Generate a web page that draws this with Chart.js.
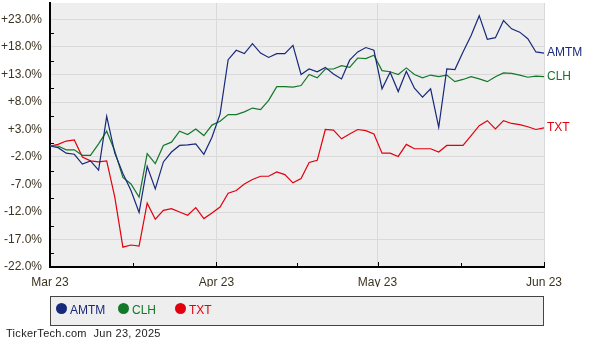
<!DOCTYPE html>
<html>
<head>
<meta charset="utf-8">
<script src="https://cdn.jsdelivr.net/npm/chart.js@4.4.1/dist/chart.umd.min.js"></script>
<style>
    body { margin: 0; background: #fff; font-family: "Liberation Sans", Arial, sans-serif; }
    #wrap { position: relative; width: 600px; height: 340px; }
    #legendBox {
        position: absolute; left: 50px; top: 296px; width: 492px; height: 28px;
        background: #eeeeee; border: 1px solid #444;
    }
    .item { position: absolute; top: 5px; font-size: 12px; line-height: 14px; }
    .dot { position: absolute; top: 1px; width: 11px; height: 11px; border-radius: 50%; }
    .item span.txt { position: absolute; left: 14px; top: 1px; white-space: nowrap; }
    #footer { position: absolute; left: 6px; top: 327px; font-size: 11px; color: #222; letter-spacing: 0.3px; }
</style>
</head>
<body>
<div id="wrap">
    <canvas id="myChart" width="600" height="340"></canvas>
    <div id="legendBox"></div>
    <div id="footer">TickerTech.com&nbsp; Jun 23, 2025</div>
</div>
<script>
const seriesNames = ['AMTM', 'CLH', 'TXT'];
const seriesColors = ['#17297a', '#13782a', '#e3000e'];

// % change from start, one value per trading day
const amtm = [0, -0.3, -1.3, -1.5, -3.3, -2.7, -4.4, 5.4, -1.3, -5.0,
    -8.1, -12.1, -3.7, -7.8, -2.9, -1.1, 0.1, 0.2, 0.4, -1.5,
    1.6, 5.8, 15.7, 17.4, 16.8, 18.6, 16.9, 16.1, 16.8, 16.8,
    18.3, 13.0, 14.0, 13.5, 14.3, 13.1, 12.2, 15.6, 17.1, 17.9,
    17.4, 10.4, 13.4, 9.9, 13.6, 10.5, 8.9, 10.4, 3.4, 14.0,
    13.9, 17.1, 20.1, 23.7, 19.4, 19.7, 22.8, 21.3, 20.7, 19.5,
    17.1, 16.9];
const clh = [0, 0.0, -0.7, -0.7, -1.7, -1.7, 0.4, 2.7, -0.9, -5.7,
    -6.9, -9.3, -1.4, -3.2, 0.1, 0.7, 2.7, 2.1, 3.1, 1.9,
    3.8, 4.5, 5.7, 5.7, 6.2, 6.9, 6.6, 8.3, 10.8, 10.8,
    10.7, 11.0, 13.0, 12.4, 14.0, 14.0, 14.6, 14.3, 16.0, 15.9,
    16.5, 13.7, 13.5, 13.0, 14.2, 13.0, 12.4, 12.9, 12.6, 12.9,
    11.7, 12.1, 12.6, 12.2, 11.7, 12.6, 13.3, 13.2, 12.9, 12.5,
    12.7, 12.6];
const txt = [0, 0.3, 0.9, 1.1, -2.0, -2.7, -2.9, -2.7, -9.3, -18.4,
    -18.0, -18.2, -10.4, -13.3, -11.7, -11.4, -12.0, -12.6, -11.2, -13.2,
    -12.2, -11.1, -8.6, -8.1, -6.9, -6.1, -5.5, -5.5, -4.7, -5.2,
    -6.7, -5.9, -3.0, -2.6, 3.0, 2.9, 1.3, 2.2, 3.0, 2.8,
    2.2, -1.3, -1.3, -1.9, 0.3, -0.5, -0.5, -0.5, -1.1, 0.1,
    0.1, 0.1, 1.9, 3.7, 4.6, 3.1, 4.6, 4.1, 3.9, 3.5,
    3.0, 3.3];

const xTickLabels = ['Mar 23', 'Apr 23', 'May 23', 'Jun 23'];
const xTickDays = [0, 31, 61, 92];
const yTicks = [-22, -17, -12, -7, -2, 3, 8, 13, 18, 23];

const lastIndex = amtm.length - 1;
const dayToIndex = d => d / 92 * lastIndex;

const plotBg = {
    id: 'plotBg',
    beforeDraw(chart) {
        const a = chart.chartArea;
        const ctx = chart.ctx;
        ctx.save();
        ctx.fillStyle = '#eeeeee';
        ctx.fillRect(a.left, a.top, a.right - a.left, a.bottom - a.top);
        ctx.restore();
    }
};

// small tick marks pointing into the plot
const innerTicks = {
    id: 'innerTicks',
    afterDraw(chart) {
        const ctx = chart.ctx;
        const a = chart.chartArea;
        const xs = chart.scales.x, ys = chart.scales.y;
        ctx.save();
        ctx.strokeStyle = '#000';
        ctx.lineWidth = 1;
        ctx.beginPath();
        for (let i = 0; i < yTicks.length - 1; i++) {
            const py = Math.round(ys.getPixelForValue((yTicks[i] + yTicks[i + 1]) / 2)) + 0.5;
            ctx.moveTo(a.left, py); ctx.lineTo(a.left + 4, py);
        }
        for (let i = 0; i < xTickDays.length; i++) {
            const px = Math.round(xs.getPixelForValue(dayToIndex(xTickDays[i]))) + 0.5;
            ctx.moveTo(px, a.bottom); ctx.lineTo(px, a.bottom - 5);
            if (i < xTickDays.length - 1) {
                const pm = Math.round(xs.getPixelForValue(dayToIndex((xTickDays[i] + xTickDays[i + 1]) / 2))) + 0.5;
                ctx.moveTo(pm, a.bottom); ctx.lineTo(pm, a.bottom - 4);
            }
        }
        ctx.stroke();
        ctx.restore();
    }
};

const endLabels = {
    id: 'endLabels',
    afterDatasetsDraw(chart) {
        const ctx = chart.ctx;
        ctx.save();
        ctx.font = '12px "Liberation Sans", Arial, sans-serif';
        ctx.textBaseline = 'middle';
        chart.data.datasets.forEach((ds, i) => {
            const pts = chart.getDatasetMeta(i).data;
            const p = pts[pts.length - 1];
            ctx.fillStyle = ds.borderColor;
            ctx.fillText(ds.label, p.x + 3, p.y);
        });
        ctx.restore();
    }
};

function buildLegend() {
    const box = document.getElementById('legendBox');
    const lefts = [5, 67, 124];
    seriesNames.forEach((name, i) => {
        const item = document.createElement('div');
        item.className = 'item';
        item.style.left = lefts[i] + 'px';
        item.innerHTML = '<div class="dot" style="background:' + seriesColors[i] + '"></div>' +
            '<span class="txt" style="color:' + seriesColors[i] + '">' + name + '</span>';
        box.appendChild(item);
    });
}

function renderChart() {
    const values = [amtm, clh, txt];
    const datasets = seriesNames.map((name, i) => ({
        label: name,
        data: values[i].map((v, k) => ({ x: k, y: v })),
        borderColor: seriesColors[i],
        borderWidth: 1.2,
        pointRadius: 0,
        tension: 0,
        fill: false,
    }));

    const tickColor = '#3d3321';
    const ctx = document.getElementById('myChart').getContext('2d');
    new Chart(ctx, {
        type: 'line',
        data: { datasets: datasets },
        options: {
            responsive: false,
            animation: false,
            layout: { padding: { top: 3, right: 56, bottom: 53, left: 0 } },
            plugins: { legend: { display: false }, tooltip: { enabled: false } },
            scales: {
                x: {
                    type: 'linear',
                    min: 0,
                    max: lastIndex,
                    afterBuildTicks: scale => {
                        scale.ticks = xTickDays.map(d => ({ value: dayToIndex(d) }));
                    },
                    afterFit: scale => {
                        scale.height = 20;
                        scale.paddingLeft = 0;
                        scale.paddingRight = 0;
                    },
                    ticks: {
                        color: tickColor,
                        font: { size: 12, family: '"Liberation Sans", Arial, sans-serif' },
                        padding: 8,
                        maxRotation: 0,
                        callback: (v, i) => xTickLabels[i],
                    },
                    grid: {
                        drawTicks: false,
                        color: c => c.index === 0 ? 'rgba(0,0,0,0)' : '#d9d9d9',
                    },
                    border: { display: true, color: '#000', width: 2 },
                },
                y: {
                    min: -22,
                    max: 26,
                    afterBuildTicks: scale => {
                        scale.ticks = yTicks.map(v => ({ value: v }));
                    },
                    afterFit: scale => {
                        scale.width = 50;
                        scale.paddingTop = 0;
                        scale.paddingBottom = 0;
                    },
                    ticks: {
                        color: tickColor,
                        font: { size: 12, family: '"Liberation Sans", Arial, sans-serif' },
                        padding: 8,
                        callback: v => (v > 0 ? '+' : '') + v.toFixed(1) + '%',
                    },
                    grid: { drawTicks: false, color: '#d9d9d9' },
                    border: { display: true, color: '#000', width: 2 },
                },
            },
        },
        plugins: [plotBg, innerTicks, endLabels],
    });
}

document.addEventListener('DOMContentLoaded', function () {
    buildLegend();
    renderChart();
});
</script>
</body>
</html>
